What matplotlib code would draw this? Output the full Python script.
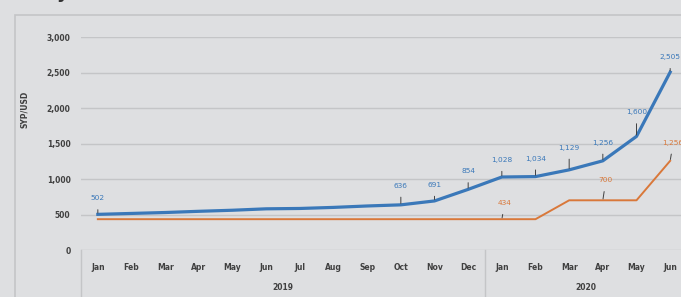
import numpy as np
import matplotlib.pyplot as plt
from matplotlib.lines import Line2D
from matplotlib.patches import Rectangle
import matplotlib.transforms as mtransforms

# Dane
months = ['Jan', 'Feb', 'Mar', 'Apr', 'May', 'Jun', 'Jul', 'Aug', 'Sep', 'Oct', 'Nov', 'Dec',
          'Jan', 'Feb', 'Mar', 'Apr', 'May', 'Jun']
years = ['2019', '2020']
parallel = [502, 515, 528, 545, 560, 580, 585, 600, 620, 636, 691, 854,
            1028, 1034, 1129, 1256, 1600, 2505]
official = [434, 434, 434, 434, 434, 434, 434, 434, 434, 434, 434, 434,
            434, 434, 700, 700, 700, 1256]
y_ticks = [0, 500, 1000, 1500, 2000, 2500, 3000]

# indeksy etykiet i przesunięcia (px)
blue_lab = {0: 16, 9: 19, 10: 16, 11: 18, 12: 17, 13: 18, 14: 22, 15: 18, 16: 24, 17: 15}
orange_lab = {12: 16, 15: 20, 17: 18}

blue = '#3a78b9'
orange = '#d9783a'
bg = '#dedfe1'
W, H = 681, 297

fig = plt.figure(figsize=(W / 100, H / 100), dpi=100, facecolor=bg)
fig.patches.append(Rectangle((15 / W, -0.1), 1.0, 1 - 15 / H + 0.1, transform=fig.transFigure,
                             facecolor='none', edgecolor='#c4c5c7', linewidth=1.2))
fig.text(57 / W, 1 + 1.5 / H, 'y', fontsize=13, fontweight='bold', color='#333333', va='baseline')

ax = fig.add_axes([81 / W, 1 - 250 / H, 606 / W, 213 / H])
ax.set_facecolor('none')
x = np.arange(len(months))
ax.plot(x, official, color=orange, linewidth=1.4, zorder=3)
ax.plot(x, parallel, color=blue, linewidth=2.3, zorder=4)

ax.set_xlim(-0.5, len(months) - 0.5)
ax.set_ylim(0, 3000)
ax.set_yticks(y_ticks)
ax.set_yticklabels([f'{v:,}' for v in y_ticks], fontsize=5.5, color='#404040', fontweight='bold')
ax.tick_params(axis='y', length=0, pad=7.5)
ax.set_xticks([])
for s in ax.spines.values():
    s.set_visible(False)
for v in y_ticks:
    ax.axhline(v, color='#c4c5c7', linewidth=1, zorder=1)
ax.set_ylabel('SYP/USD', fontsize=5.5, fontweight='bold', color='#404040', labelpad=4)
ax.yaxis.set_label_coords(-52 / 606, 0.66)

trans = mtransforms.blended_transform_factory(ax.transData, ax.transAxes)
for i, m in enumerate(months):
    ax.text(i, -17 / 213, m, transform=trans, ha='center', va='center', fontsize=5.5,
            color='#404040', fontweight='bold')
ax.text(5.5, -38 / 213, years[0], transform=trans, ha='center', va='center', fontsize=5.5,
        color='#404040', fontweight='bold')
ax.text(14.5, -38 / 213, years[1], transform=trans, ha='center', va='center', fontsize=5.5,
        color='#404040', fontweight='bold')
for xv in [-0.5, 11.5]:
    ax.add_line(Line2D([xv, xv], [0, -0.3], transform=trans, color='#c4c5c7', linewidth=1,
                       clip_on=False))

def label(i, val, off, col, dx=0):
    ax.annotate(f'{val:,}', xy=(i, val), xytext=(dx * 0.72, off * 0.72), textcoords='offset points',
                ha='center', va='center', fontsize=5.3, color=col, zorder=5, annotation_clip=False,
                arrowprops=dict(arrowstyle='-', color='#404040', linewidth=0.7, shrinkA=4, shrinkB=1))

for i, off in blue_lab.items():
    label(i, parallel[i], off, blue)
for i, off in orange_lab.items():
    label(i, official[i], off, orange, dx=3)

fig.savefig('out.png', dpi=100, facecolor=bg)
